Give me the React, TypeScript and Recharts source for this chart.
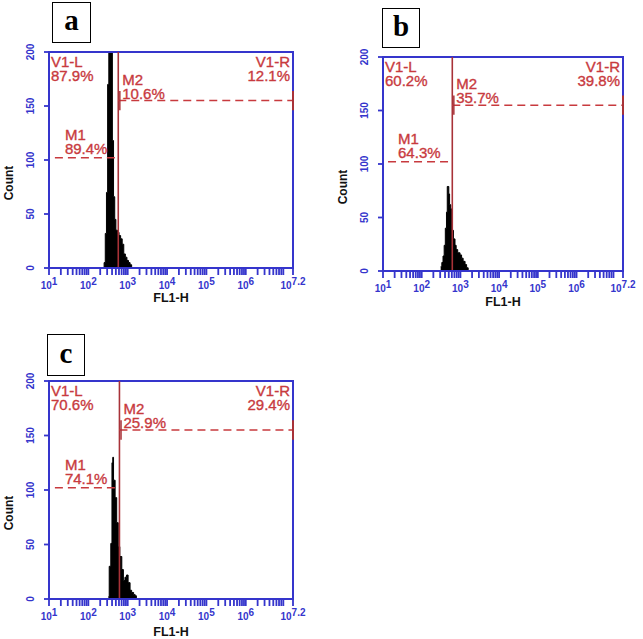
import React from 'react';
import {
  ComposedChart,
  Area,
  XAxis,
  YAxis,
  ReferenceLine,
  ReferenceArea,
  ReferenceDot,
} from 'recharts';

const BLUE = '#3535cc';
const RED = '#c83a3e';
const GATE_RED = '#a83238';
const FONT = '"Liberation Sans", Arial, sans-serif';
const SERIF = '"Liberation Serif", "Times New Roman", serif';

// Histogram bins: log10(FL1-H) bin starts and counts
const binsA = [2.38, 2.40, 2.43, 2.46, 2.49, 2.52, 2.55, 2.58, 2.61, 2.64, 2.67, 2.70, 2.74, 2.78, 2.82, 2.86, 2.90, 2.94, 2.98, 3.02, 3.06, 3.10];
const countsA = [0, 5, 32, 70, 170, 260, 280, 240, 118, 66, 45, 35, 33, 30, 27, 22, 13, 10, 7, 5, 3, 0];

const binsB = [2.49, 2.52, 2.55, 2.58, 2.61, 2.64, 2.66, 2.70, 2.72, 2.75, 2.78, 2.82, 2.86, 2.89, 2.93, 2.99, 3.03, 3.07, 3.12, 3.16, 3.20];
const countsB = [4, 8, 14, 24, 40, 55, 79, 72, 62, 58, 38, 30, 24, 20, 17, 15, 12, 9, 6, 3, 0];

const binsC = [2.51, 2.53, 2.57, 2.60, 2.62, 2.64, 2.68, 2.72, 2.76, 2.80, 2.85, 2.89, 2.93, 2.97, 3.01, 3.06, 3.10, 3.15, 3.19, 3.22];
const countsC = [2, 30, 51, 125, 130, 109, 93, 70, 48, 39, 27, 17, 20, 22, 15, 8, 6, 4, 3, 0];

// Panel annotations
const panelLetters = ['a', 'b', 'c'];
const v1LPct = ['87.9%', '60.2%', '70.6%'];
const v1RPct = ['12.1%', '39.8%', '29.4%'];
const m1Pct = ['89.4%', '64.3%', '74.1%'];
const m2Pct = ['10.6%', '35.7%', '25.9%'];
const gateX = [2.76, 2.79, 2.79];
const m1Start = [1.15, 1.13, 1.15];
const m1Level = 102;
const m2Level = 155;

// Axes
const yTicks = [0, 50, 100, 150, 200];
const xMajorTicks = [1, 2, 3, 4, 5, 6, 7.2];
const xMajorLabels = ['1', '2', '3', '4', '5', '6', '7.2'];
const xMinorTicks: number[] = [];
for (let d = 1; d < 8; d++) {
  for (let k = 2; k <= 9; k++) {
    const v = d + Math.log10(k);
    if (v < 7.2) xMinorTicks.push(v);
  }
}
const xAllTicks = [...xMajorTicks, ...xMinorTicks].sort((a, b) => a - b);

const XTick = (props: any) => {
  const { x, y, payload } = props;
  const i = xMajorTicks.indexOf(payload.value);
  if (i < 0) return <g />;
  return (
    <text x={x} y={y + 12} textAnchor="middle" fill={BLUE} fontFamily={FONT} fontWeight="bold" fontSize={10}>
      10<tspan dy={-4} fontSize={10}>{xMajorLabels[i]}</tspan>
    </text>
  );
};

const YTick = (props: any) => {
  const { x, y, payload } = props;
  const bx = x - 8.5;
  return (
    <text
      transform={`rotate(-90, ${bx}, ${y})`}
      x={bx}
      y={y}
      textAnchor="middle"
      fill={BLUE}
      fontFamily={FONT}
      fontWeight="bold"
      fontSize={10}
    >
      {payload.value}
    </text>
  );
};

const textLabel = (lines: string[], anchor: 'start' | 'end', dx: number, dy0: number) => (props: any) => {
  const vb = props.viewBox || {};
  const cx = (vb.x || 0) + (vb.width || 0) / 2;
  const cy = (vb.y || 0) + (vb.height || 0) / 2;
  return (
    <g>
      {lines.map((l, i) => (
        <text
          key={i}
          x={cx + dx}
          y={cy + dy0 + i * 14}
          textAnchor={anchor}
          fill={RED}
          stroke={RED}
          strokeWidth={0.35}
          fontFamily={FONT}
          fontSize={15}
        >
          {l}
        </text>
      ))}
    </g>
  );
};

type PanelProps = {
  idx: number;
  bins: number[];
  counts: number[];
  left: number;
  top: number;
  width: number;
  height: number;
  plot: { l: number; t: number; r: number; b: number };
  flDy: number;
};

function Panel({ idx, bins, counts, left, top, width, height, plot, flDy }: PanelProps) {
  const data = bins.map((x, i) => ({ x, count: counts[i] }));
  const gate = gateX[idx];
  return (
    <div style={{ position: 'absolute', left, top, width, height }}>
      <ComposedChart
        width={width}
        height={height}
        data={data}
        margin={{ top: plot.t, right: width - plot.r, bottom: 0, left: 0 }}
      >
        <XAxis
          dataKey="x"
          type="number"
          domain={[1, 7.2]}
          ticks={xAllTicks}
          interval={0}
          allowDataOverflow
          height={height - plot.b}
          tickSize={7}
          tick={<XTick />}
          axisLine={{ stroke: BLUE, strokeWidth: 2 }}
          tickLine={{ stroke: BLUE, strokeWidth: 1.8 }}
          label={(p: any) => {
            const vb = p.viewBox;
            return (
              <text
                x={vb.x + vb.width / 2}
                y={vb.y + flDy}
                textAnchor="middle"
                fontFamily={FONT}
                fontWeight="bold"
                fontSize={12.5}
                fill="#111"
              >
                FL1-H
              </text>
            );
          }}
        />
        <YAxis
          type="number"
          domain={[0, 200]}
          ticks={yTicks}
          allowDataOverflow
          width={plot.l}
          tickSize={5}
          tick={<YTick />}
          axisLine={{ stroke: BLUE, strokeWidth: 2 }}
          tickLine={{ stroke: BLUE, strokeWidth: 1.8 }}
          label={(p: any) => {
            const vb = p.viewBox;
            const cxp = vb.x + vb.width - 40 + 4.3;
            const cyp = vb.y + vb.height / 2 + 23;
            return (
              <text
                transform={`rotate(-90, ${cxp}, ${cyp})`}
                x={cxp}
                y={cyp}
                textAnchor="middle"
                fontFamily={FONT}
                fontWeight="bold"
                fontSize={12}
                fill="#111"
              >
                Count
              </text>
            );
          }}
        />
        <Area
          dataKey="count"
          type="stepAfter"
          fill="#000"
          fillOpacity={1}
          stroke="#000"
          strokeWidth={1}
          dot={false}
          activeDot={false}
          isAnimationActive={false}
        />
        <ReferenceArea x1={1} x2={7.2} y1={0} y2={200} fill="none" stroke={BLUE} strokeWidth={2} />
        <ReferenceLine x={gate} stroke={GATE_RED} strokeWidth={1.6} />
        <ReferenceLine
          segment={[{ x: m1Start[idx], y: m1Level }, { x: gate, y: m1Level }]}
          stroke={RED}
          strokeWidth={1.5}
          strokeDasharray="8 5"
        />
        <ReferenceLine
          segment={[{ x: gate, y: m2Level }, { x: 7.2, y: m2Level }]}
          stroke={RED}
          strokeWidth={1.5}
          strokeDasharray="8 5"
        />
        <ReferenceLine
          segment={[{ x: gate + 0.04, y: m2Level - 9 }, { x: gate + 0.04, y: m2Level + 9 }]}
          stroke={GATE_RED}
          strokeWidth={1.5}
        />
        <ReferenceLine
          segment={[{ x: 7.2, y: m2Level - 9 }, { x: 7.2, y: m2Level + 9 }]}
          stroke={GATE_RED}
          strokeWidth={2}
        />
        <ReferenceDot x={1} y={200} r={0.5} fill="none" stroke="none" label={textLabel(['V1-L', v1LPct[idx]], 'start', 2, 15)} />
        <ReferenceDot x={7.2} y={200} r={0.5} fill="none" stroke="none" label={textLabel(['V1-R', v1RPct[idx]], 'end', -3, 15)} />
        <ReferenceDot x={gate} y={m2Level} r={0.5} fill="none" stroke="none" label={textLabel(['M2', m2Pct[idx]], 'start', 4, -16)} />
        <ReferenceDot x={m1Start[idx]} y={m1Level} r={0.5} fill="none" stroke="none" label={textLabel(['M1', m1Pct[idx]], 'start', 10, -18)} />
      </ComposedChart>
    </div>
  );
}

const boxStyle = (x: number, y: number, w: number, h: number): React.CSSProperties => ({
  position: 'absolute',
  left: x,
  top: y,
  width: w - 2,
  height: h - 2,
  border: '1px solid #000',
  background: '#fff',
  fontFamily: SERIF,
  fontWeight: 'bold',
  fontSize: 29,
  lineHeight: `${h - 6}px`,
  textAlign: 'center',
  color: '#000',
});

export default function App() {
  return (
    <div style={{ position: 'absolute', left: 0, top: 0, width: 643, height: 639, background: '#fff', overflow: 'hidden' }}>
      <Panel idx={0} bins={binsA} counts={countsA} left={0} top={0} width={310} height={310} plot={{ l: 49, t: 52, r: 293, b: 268 }} flDy={34} />
      <Panel idx={1} bins={binsB} counts={countsB} left={330} top={0} width={313} height={310} plot={{ l: 53, t: 57, r: 293, b: 271 }} flDy={35} />
      <Panel idx={2} bins={binsC} counts={countsC} left={0} top={320} width={310} height={319} plot={{ l: 49, t: 61, r: 293, b: 279 }} flDy={37} />
      <div style={boxStyle(52, 2, 39, 41)}>{panelLetters[0]}</div>
      <div style={boxStyle(382, 8, 38, 40)}>{panelLetters[1]}</div>
      <div style={boxStyle(47, 334, 38, 42)}>{panelLetters[2]}</div>
    </div>
  );
}
